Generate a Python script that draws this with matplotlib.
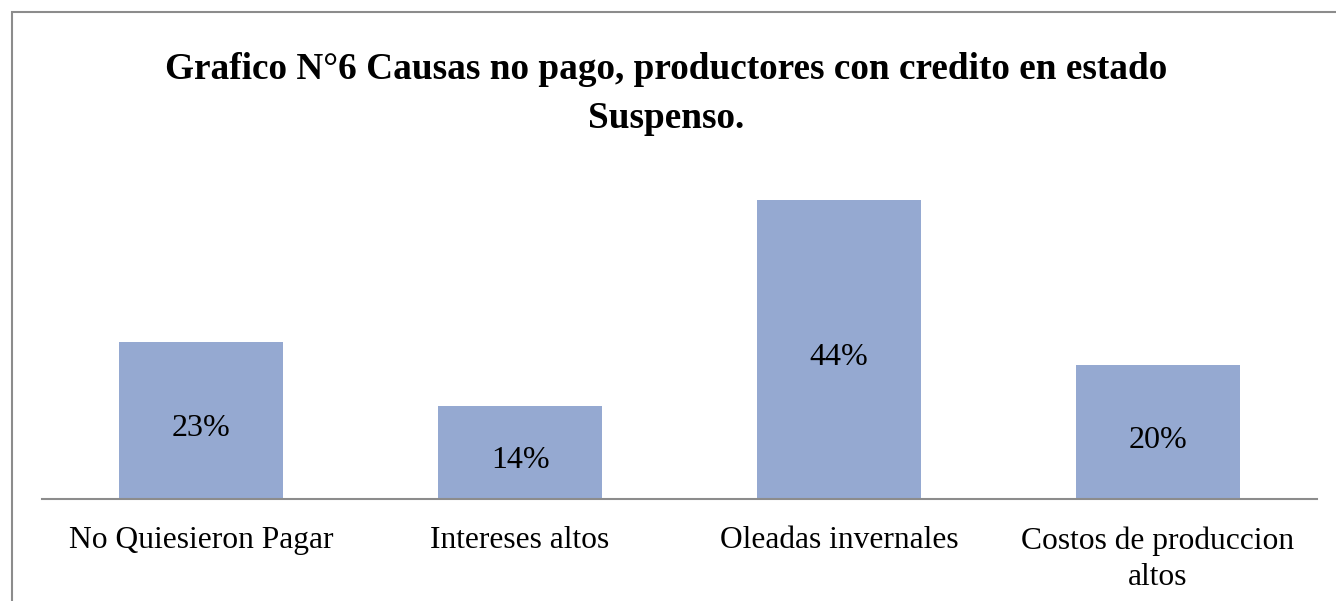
import matplotlib.pyplot as plt
from matplotlib.patches import Rectangle

categories = ["No Quiesieron Pagar", "Intereses altos", "Oleadas invernales", "Costos de produccion\naltos"]
values = [23.1, 13.6, 44.0, 19.7]
title = "Grafico N°6 Causas no pago, productores con credito en estado\nSuspenso."

plt.rcParams['font.family'] = ['Liberation Serif', 'DejaVu Serif']

W, H = 1336, 601
fig = plt.figure(figsize=(W / 100, H / 100), dpi=100)

# outer chart frame (runs off the right and bottom edge)
fig.add_artist(Rectangle((12 / W, -0.1), 1.2, 1 - 12 / H + 0.1, transform=fig.transFigure,
                         fill=False, edgecolor='#8c8c8c', linewidth=1.5))

ax = fig.add_axes([42 / W, 1 - 498.5 / H, (1317 - 42) / W, (498.5 - 159.5) / H])
x = range(len(categories))
bars = ax.bar(x, values, width=0.515, color='#95a9d1')
for i, v in zip(x, values):
    ax.annotate(f"{v:.0f}%", (i, v / 2), xytext=(0, -6), textcoords='offset points',
                ha='center', va='center', fontsize=23)

ax.set_xlim(-0.5, len(categories) - 0.5)
ax.set_ylim(0, 50)
ax.set_yticks([])
ax.set_xticks(list(x))
ax.set_xticklabels(categories, fontsize=22.7, linespacing=1.35)
ax.tick_params(axis='x', length=0, pad=20)
for s in ['top', 'right', 'left']:
    ax.spines[s].set_visible(False)
ax.spines['bottom'].set_color('#8c8c8c')
ax.spines['bottom'].set_linewidth(1.5)
ax.patch.set_alpha(0)

fig.text(0.4985, 1 - 52 / H, title, ha='center', va='top', fontsize=26.8,
         fontweight='bold', linespacing=1.5)

fig.savefig('out.png', dpi=100)
